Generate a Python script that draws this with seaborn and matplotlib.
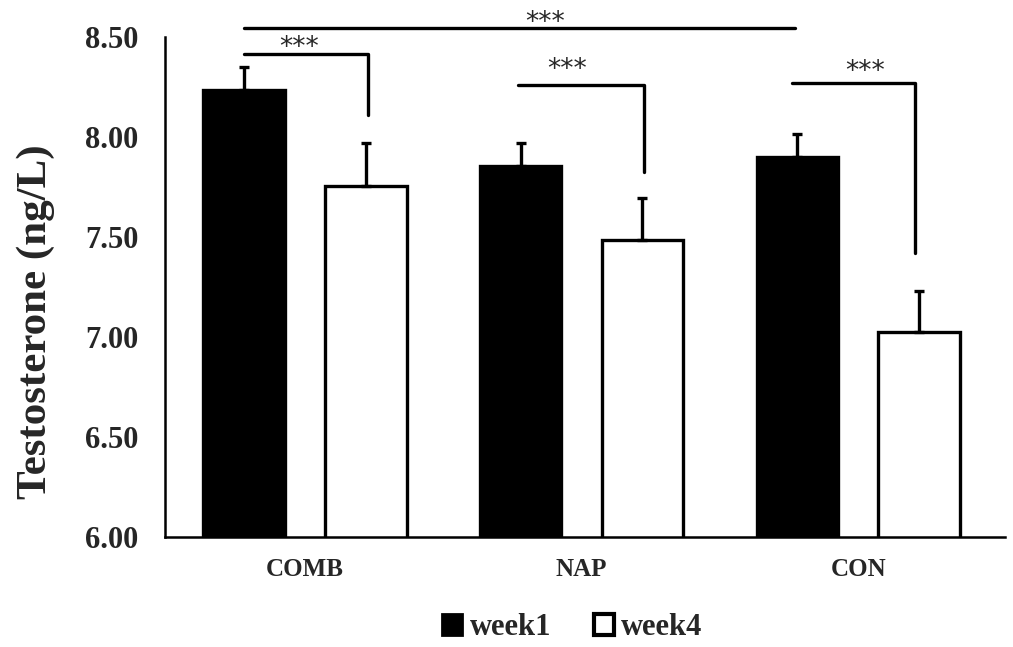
import numpy as np
import pandas as pd
import seaborn as sns
import matplotlib.pyplot as plt
from matplotlib.patches import Patch

groups = ["COMB", "NAP", "CON"]
weeks = ["week1", "week4"]
week1_mean = [8.235, 7.855, 7.90]
week1_err = [0.115, 0.115, 0.115]
week4_mean = [7.755, 7.485, 7.025]
week4_err = [0.215, 0.21, 0.205]

# significance brackets: (x_left, x_right, y_bar, y_drop or None, text_x, text_y)
brackets = [
    (-0.22, 0.227, 8.415, 8.11, -0.02, 8.38),
    (-0.22, 1.77, 8.545, None, 0.87, 8.505),
    (0.77, 1.224, 8.26, 7.825, 0.946, 8.27),
    (1.76, 2.206, 8.27, 7.42, 2.025, 8.26),
]

df = pd.DataFrame({
    "group": groups * 2,
    "week": ["week1"] * 3 + ["week4"] * 3,
    "value": week1_mean + week4_mean,
})

sns.set_theme(style="white")
plt.rcParams["font.family"] = ["Liberation Serif", "DejaVu Serif"]

fig = plt.figure(figsize=(10.13, 6.47), dpi=100)
ax = fig.add_axes([0.163, 0.170, 0.829, 0.773])

sns.barplot(data=df, x="group", y="value", hue="week", order=groups, hue_order=weeks,
            palette={"week1": "black", "week4": "white"}, width=0.88, gap=0.33,
            errorbar=None, legend=False, ax=ax)

for cont, errs in zip(ax.containers, [week1_err, week4_err]):
    for patch, e in zip(cont.patches, errs):
        patch.set_edgecolor("black")
        patch.set_linewidth(2.4)
        cx = patch.get_x() + patch.get_width() / 2
        top = patch.get_height()
        ax.errorbar(cx, top, yerr=[[0], [e]], color="black", elinewidth=2.4,
                    capsize=3.5, capthick=2.4, zorder=1)

ax.set_ylim(6.0, 8.5)
ax.set_xlim(-0.505, 2.53)
ticks = np.arange(6.0, 8.51, 0.5)
ax.set_yticks(ticks)
ax.set_yticklabels([f"{v:.2f}" for v in ticks], fontsize=22, fontweight="bold")
ax.set_xticks(range(len(groups)))
ax.set_xticklabels(groups, fontsize=18, fontweight="bold")
ax.tick_params(axis="y", length=0, pad=19)
ax.tick_params(axis="x", length=0, pad=15)
ax.set_xlabel("")
ax.set_ylabel("Testosterone (ng/L)", fontsize=31, fontweight="bold")
ax.yaxis.set_label_coords(-0.131, 0.43)

for side in ["top", "right"]:
    ax.spines[side].set_visible(False)
for side in ["left", "bottom"]:
    ax.spines[side].set_color("black")
    ax.spines[side].set_linewidth(1.8)

for x0, x1, yb, yd, tx, ty in brackets:
    if yd is None:
        ax.plot([x0, x1], [yb, yb], color="black", lw=2.4, clip_on=False)
    else:
        ax.plot([x0, x1, x1], [yb, yb, yd], color="black", lw=2.4, clip_on=False)
    ax.text(tx, ty, "***", ha="center", va="bottom", fontsize=19,
            family=["DejaVu Sans"], clip_on=False)

handles = [Patch(facecolor="black", edgecolor="black", linewidth=2),
           Patch(facecolor="white", edgecolor="black", linewidth=3)]
fig.legend(handles, weeks, loc="center", bbox_to_anchor=(0.565, 0.03), ncol=2,
           frameon=False, handlelength=0.65, handleheight=0.7, handletextpad=0.25,
           columnspacing=1.4, prop={"family": "Liberation Serif", "weight": "bold", "size": 22})

fig.savefig("out.png", dpi=100, facecolor="white")
